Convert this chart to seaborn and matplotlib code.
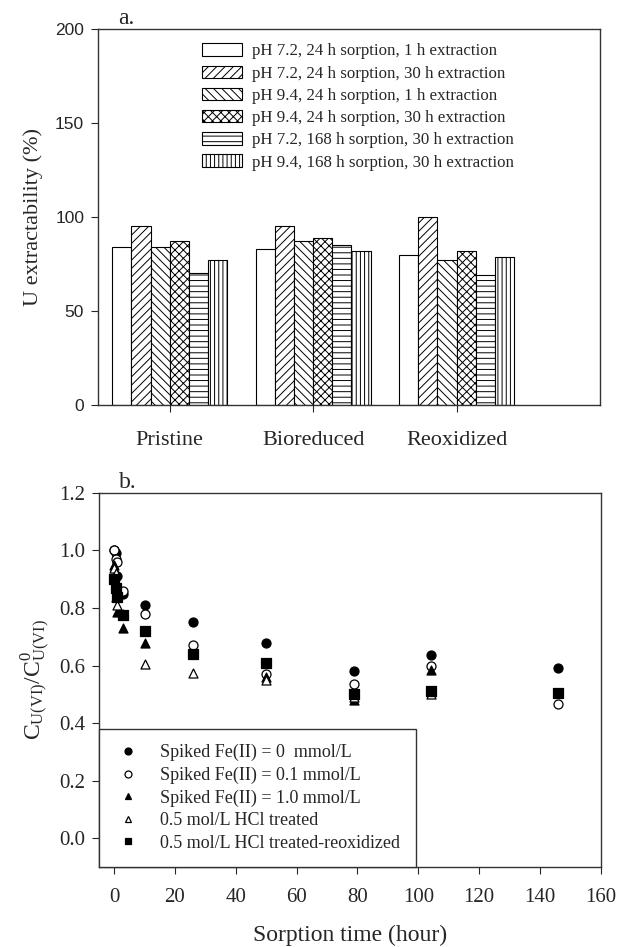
import matplotlib
matplotlib.use("Agg")
import matplotlib.pyplot as plt
from matplotlib.patches import Patch
from matplotlib.lines import Line2D
import numpy as np
import pandas as pd
import seaborn as sns

# ---------------- data ----------------
samples = ["Pristine", "Bioreduced", "Reoxidized"]
conditions = [
    "pH 7.2, 24 h sorption, 1 h extraction",
    "pH 7.2, 24 h sorption, 30 h extraction",
    "pH 9.4, 24 h sorption, 1 h extraction",
    "pH 9.4, 24 h sorption, 30 h extraction",
    "pH 7.2, 168 h sorption, 30 h extraction",
    "pH 9.4, 168 h sorption, 30 h extraction",
]
pristine_vals = [84, 95, 84, 87, 70, 77]
bioreduced_vals = [83, 95, 87, 89, 85, 82]
reoxidized_vals = [80, 100, 77, 82, 69, 79]
hatches = ["", "////", "\\\\\\\\", "xxxx", "---", "||||"]

times = [0, 0.5, 1, 3, 10, 26, 50, 79, 104, 146]
fe0 = [1.00, 0.99, 0.91, 0.85, 0.81, 0.75, 0.68, 0.58, 0.635, 0.59]
fe01 = [1.00, 0.97, 0.96, 0.86, 0.78, 0.67, 0.57, 0.535, 0.60, 0.465]
fe10 = [0.95, 0.84, 0.785, 0.73, 0.68, 0.64, 0.56, 0.48, 0.585, np.nan]
hcl = [0.94, 0.92, 0.81, 0.78, 0.605, 0.575, 0.55, 0.49, 0.50, np.nan]
hcl_reox = [0.90, 0.87, 0.84, 0.775, 0.72, 0.64, 0.61, 0.50, 0.51, 0.505]
series_names = [
    "Spiked Fe(II) = 0  mmol/L",
    "Spiked Fe(II) = 0.1 mmol/L",
    "Spiked Fe(II) = 1.0 mmol/L",
    "0.5 mol/L HCl treated",
    "0.5 mol/L HCl treated-reoxidized",
]
series_vals = [fe0, fe01, fe10, hcl, hcl_reox]
markers = ["o", "o", "^", "^", "s"]
facecols = ["black", "white", "black", "white", "black"]

# ---------------- style ----------------
sns.set_style("ticks")
plt.rcParams["font.family"] = ["Liberation Serif", "DejaVu Serif"]
plt.rcParams["mathtext.fontset"] = "custom"
plt.rcParams["mathtext.rm"] = "Liberation Serif"
plt.rcParams["mathtext.it"] = "Liberation Serif:italic"
plt.rcParams["hatch.linewidth"] = 0.7
plt.rcParams["axes.edgecolor"] = "#333333"
plt.rcParams["axes.linewidth"] = 1.0

fig = plt.figure(figsize=(6.18, 9.47), dpi=100)
ax1 = fig.add_axes([0.1586, 0.5723, 0.8123, 0.3970])
ax2 = fig.add_axes([0.1600, 0.0845, 0.8123, 0.3950])

# ---------------- panel a ----------------
rows = []
for s, vals in zip(samples, [pristine_vals, bioreduced_vals, reoxidized_vals]):
    for c, v in zip(conditions, vals):
        rows.append({"sample": s, "condition": c, "value": v})
df = pd.DataFrame(rows)

sns.barplot(data=df, x="sample", y="value", hue="condition",
            order=samples, hue_order=conditions,
            palette=["white"] * 6, edgecolor="black", linewidth=0.8,
            width=0.8, saturation=1, legend=False, ax=ax1)
for cont, h in zip(ax1.containers, hatches):
    for p in cont.patches:
        p.set_hatch(h)
        p.set_facecolor("white")
        p.set_edgecolor("black")

ax1.set_xlim(-0.5, 3.0)
ax1.set_ylim(0, 200)
ax1.set_yticks([0, 50, 100, 150, 200])
ax1.set_xlabel("")
ax1.set_ylabel("U extractability (%)", fontsize=16, labelpad=9)
ax1.tick_params(axis="x", labelsize=16, direction="out", length=5, pad=14)
ax1.tick_params(axis="y", labelsize=12.5, direction="out", length=5, pad=5)
for lbl in ax1.get_yticklabels():
    lbl.set_fontfamily(["Liberation Sans", "DejaVu Sans"])
for sp in ax1.spines.values():
    sp.set_visible(True)

handles = [Patch(facecolor="white", edgecolor="black", hatch=h, linewidth=0.8)
           for h in hatches]
ax1.legend(handles, conditions, loc="upper left", bbox_to_anchor=(0.193, 0.98),
           frameon=False, fontsize=12.2, handlelength=2.4, handleheight=0.75,
           handletextpad=0.55, labelspacing=0.36, borderaxespad=0)
ax1.text(0.04, 1.0, "a.", transform=ax1.transAxes, fontsize=17,
         ha="left", va="bottom")

# ---------------- panel b ----------------
for name, vals, m, fc in zip(series_names, series_vals, markers, facecols):
    d = pd.DataFrame({"t": times, "c": vals}).dropna()
    sns.scatterplot(data=d, x="t", y="c", marker=m, s=42, color=fc,
                    edgecolor="black", linewidth=0.9, ax=ax2, zorder=3)

ax2.set_xlim(-5, 160)
ax2.set_ylim(-0.1, 1.2)
ax2.set_xticks(np.arange(0, 161, 20))
ax2.set_yticks(np.arange(0, 1.21, 0.2))
ax2.set_yticklabels([f"{v:.1f}" for v in np.arange(0, 1.21, 0.2)])
ax2.tick_params(axis="both", labelsize=15, direction="out", length=5)
ax2.tick_params(axis="x", pad=10)
ax2.tick_params(axis="y", pad=5)
ax2.set_xlabel("Sorption time (hour)", fontsize=17, labelpad=13)
ax2.set_ylabel(r"C$_{\mathrm{U(VI)}}$/C$^{0}_{\mathrm{U(VI)}}$", fontsize=17, labelpad=4)
for sp in ax2.spines.values():
    sp.set_visible(True)

leg_handles = [Line2D([], [], linestyle="none", marker=m, markersize=5,
                      markerfacecolor=fc, markeredgecolor="black", markeredgewidth=0.9)
               for m, fc in zip(markers, facecols)]
leg = ax2.legend(leg_handles, series_names, loc="lower left", bbox_to_anchor=(0, 0),
                 borderaxespad=0, frameon=True, fancybox=False, fontsize=13,
                 handlelength=1.5, handletextpad=1.05, labelspacing=0.3,
                 borderpad=0.85)
leg.get_frame().set_edgecolor("#333333")
leg.get_frame().set_linewidth(1.0)
leg.get_frame().set_alpha(1)
ax2.text(0.04, 1.0, "b.", transform=ax2.transAxes, fontsize=17,
         ha="left", va="bottom")

fig.savefig("out.png", dpi=100)
